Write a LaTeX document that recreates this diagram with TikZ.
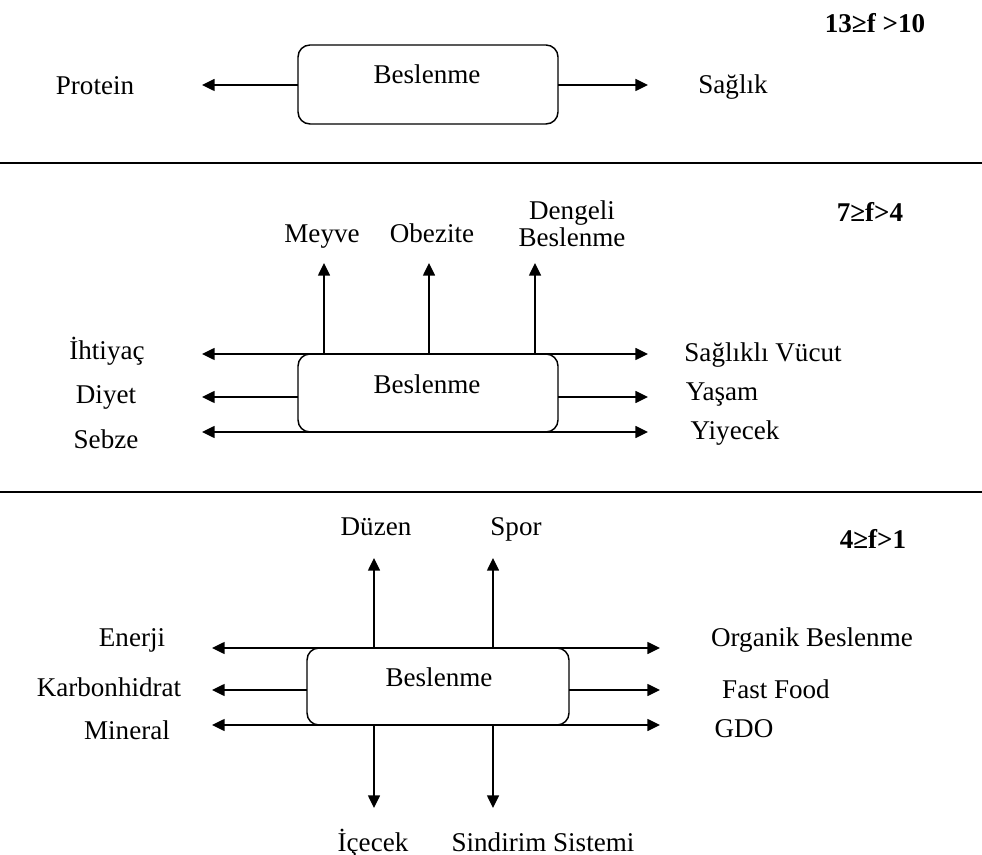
\documentclass[tikz,border=0pt]{standalone}
\usepackage{fontspec}
\setmainfont{Liberation Serif}
\usetikzlibrary{arrows.meta}
\begin{document}
\begin{tikzpicture}[x=0.75pt,y=-0.75pt,
  lbl/.style={font=\fontsize{20.3}{21}\selectfont, inner sep=0pt},
  lvl/.style={font=\bfseries\fontsize{20.3}{21}\selectfont, inner sep=0pt},
  bx/.style={draw, rounded corners=9pt, line width=1.1pt},
  arr/.style={-{Triangle[length=9.5pt,width=9pt]}, line width=1.1pt},
  darr/.style={{Triangle[length=9.5pt,width=9pt]}-{Triangle[length=9.5pt,width=9pt]}, line width=1.1pt},
  sep/.style={line width=1.1pt}]
\useasboundingbox (0,0) rectangle (982,855);
% separators
\coordinate (s1a) at (0,163); \coordinate (s1b) at (982,163);
\coordinate (s2a) at (0,492); \coordinate (s2b) at (982,492);
\draw[sep] (s1a) -- (s1b);
\draw[sep] (s2a) -- (s2b);

% ---------- panel 1 ----------
\node[lvl] (f1) at (875,23) {13≥f >10};
\draw[bx] (298,45) rectangle (558,124);
\coordinate (b1l) at (298,85); \coordinate (b1r) at (558,85);
\node[lbl] (b1) at (427,74) {Beslenme};
\coordinate (p1l) at (202,85); \coordinate (p1r) at (648,85);
\node[lbl] (protein) at (95,86) {Protein};
\node[lbl] (saglik) at (733,87) {Sağlık};
\draw[arr] (b1l) -- (p1l);
\draw[arr] (b1r) -- (p1r);

% ---------- panel 2 ----------
\node[lvl] (f2) at (870,212) {7≥f>4};
\draw[bx] (298,354) rectangle (558,432);
\node[lbl] (b2) at (427,384) {Beslenme};
\coordinate (t2a) at (324,354); \coordinate (t2ae) at (324,263);
\coordinate (t2b) at (429,354); \coordinate (t2be) at (429,263);
\coordinate (t2c) at (535,354); \coordinate (t2ce) at (535,263);
\draw[arr] (t2a) -- (t2ae);
\draw[arr] (t2b) -- (t2be);
\draw[arr] (t2c) -- (t2ce);
\node[lbl, anchor=base] (meyve) at (322,243) {Meyve};
\node[lbl, anchor=base] (obezite) at (432,243) {Obezite};
\node[lbl, align=center, font=\fontsize{20.3}{20}\selectfont] (dengeli) at (572,224) {Dengeli\\Beslenme};
\coordinate (h2al) at (202,354); \coordinate (h2ar) at (648,354);
\coordinate (h2bl) at (202,397); \coordinate (h2br) at (648,397);
\coordinate (h2bl0) at (298,397); \coordinate (h2br0) at (558,397);
\coordinate (h2cl) at (202,432); \coordinate (h2cr) at (648,432);
\draw[darr] (h2al) -- (h2ar);
\draw[arr] (h2bl0) -- (h2bl);
\draw[arr] (h2br0) -- (h2br);
\draw[darr] (h2cl) -- (h2cr);
\node[lbl] (ihtiyac) at (107,351) {İhtiyaç};
\node[lbl] (diyet) at (106,397) {Diyet};
\node[lbl] (sebze) at (106,439) {Sebze};
\node[lbl] (vucut) at (763,355) {Sağlıklı Vücut};
\node[lbl] (yasam) at (722,395) {Yaşam};
\node[lbl] (yiyecek) at (735,433) {Yiyecek};

% ---------- panel 3 ----------
\node[lvl] (f3) at (873,539) {4≥f>1};
\draw[bx] (307,648) rectangle (569,725);
\node[lbl] (b3) at (439,677) {Beslenme};
\coordinate (t3a) at (374,648); \coordinate (t3ae) at (374,558);
\coordinate (t3b) at (493,648); \coordinate (t3be) at (493,558);
\draw[arr] (t3a) -- (t3ae);
\draw[arr] (t3b) -- (t3be);
\node[lbl, anchor=base] (duzen) at (376,535) {Düzen};
\node[lbl, anchor=base] (spor) at (516,535) {Spor};
\coordinate (d3a) at (374,725); \coordinate (d3ae) at (374,808);
\coordinate (d3b) at (493,725); \coordinate (d3be) at (493,808);
\draw[arr] (d3a) -- (d3ae);
\draw[arr] (d3b) -- (d3be);
\node[lbl, anchor=base] (icecek) at (373,851) {İçecek};
\node[lbl, anchor=base] (sindirim) at (543,851) {Sindirim Sistemi};
\coordinate (h3al) at (212,648); \coordinate (h3ar) at (660,648);
\coordinate (h3bl) at (212,690); \coordinate (h3br) at (660,690);
\coordinate (h3bl0) at (307,690); \coordinate (h3br0) at (569,690);
\coordinate (h3cl) at (212,725); \coordinate (h3cr) at (660,725);
\draw[darr] (h3al) -- (h3ar);
\draw[arr] (h3bl0) -- (h3bl);
\draw[arr] (h3br0) -- (h3br);
\draw[darr] (h3cl) -- (h3cr);
\node[lbl] (enerji) at (132,640) {Enerji};
\node[lbl] (karbon) at (109,687) {Karbonhidrat};
\node[lbl] (mineral) at (127,730) {Mineral};
\node[lbl] (organik) at (812,640) {Organik Beslenme};
\node[lbl] (fastfood) at (776,689) {Fast Food};
\node[lbl] (gdo) at (744,729) {GDO};
\end{tikzpicture}
\end{document}
